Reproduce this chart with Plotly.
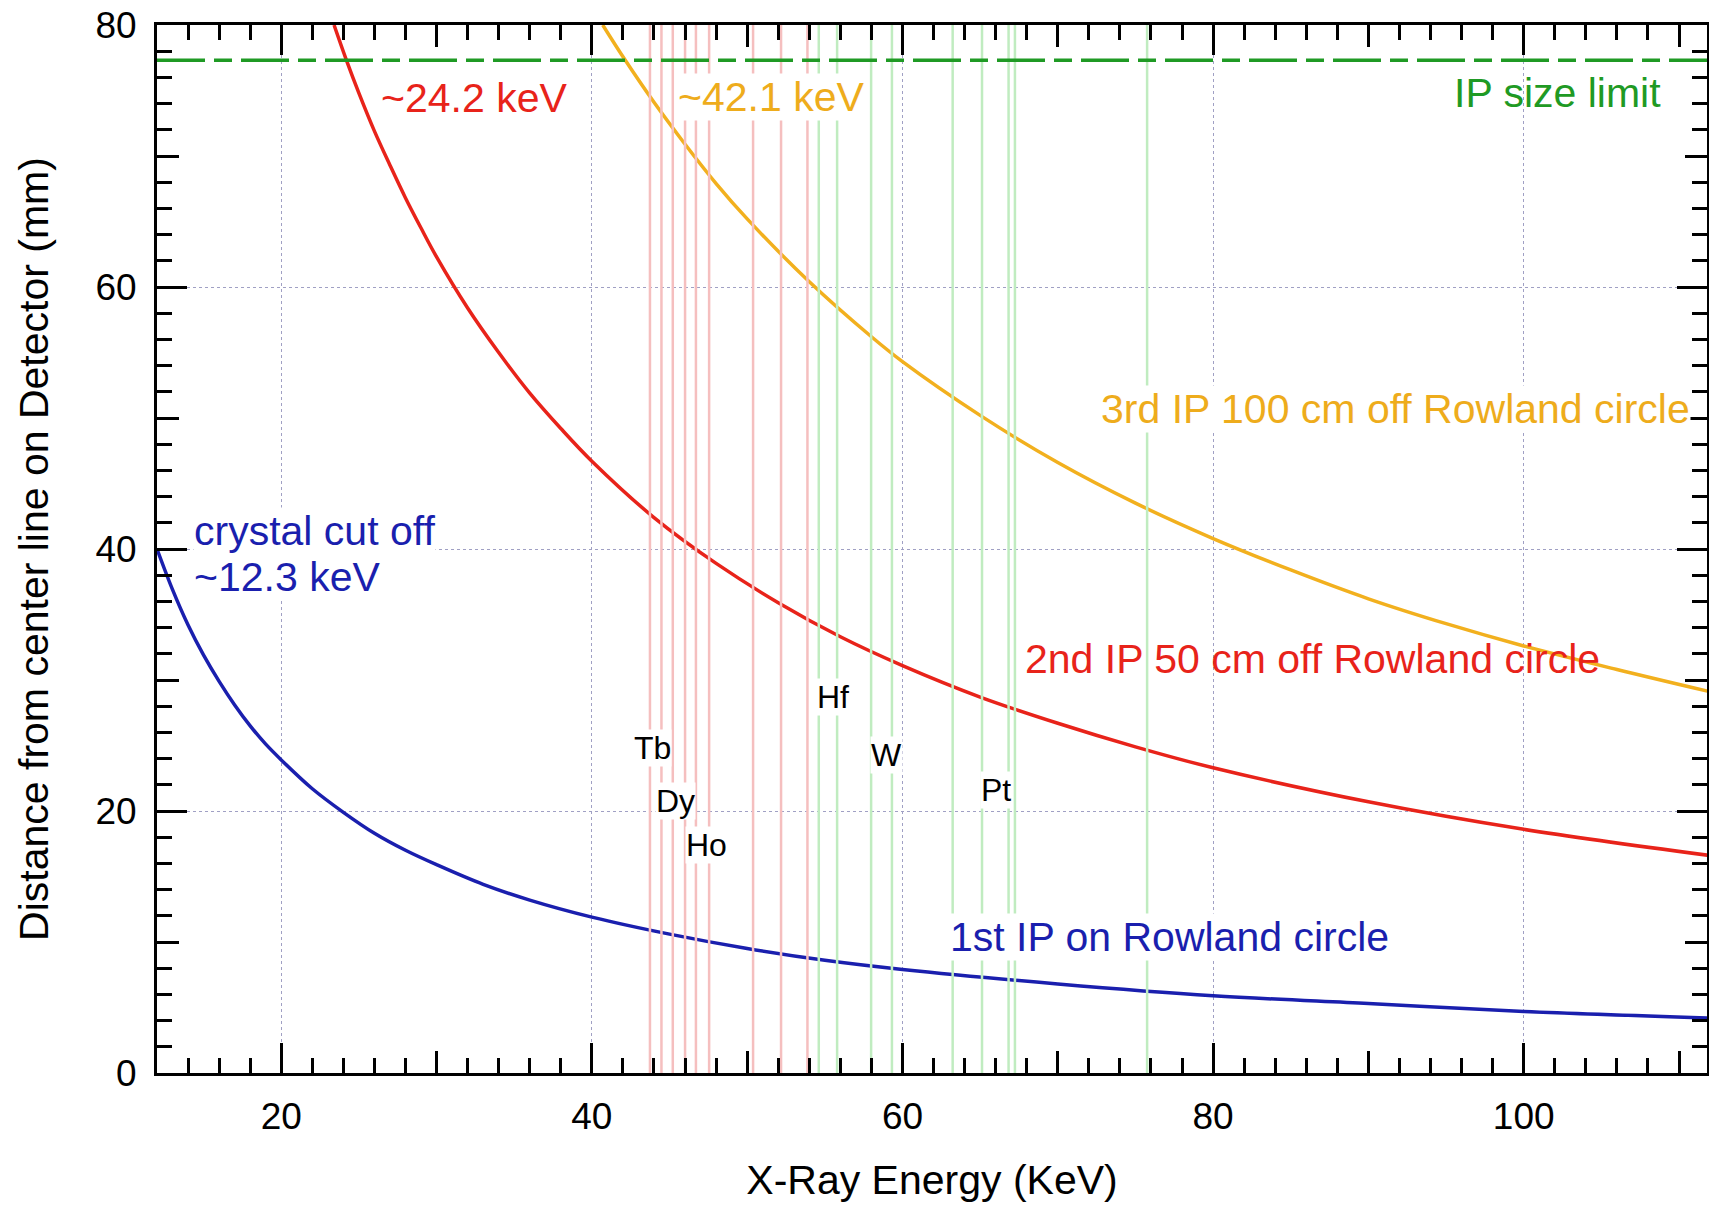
import plotly.graph_objects as go

# ---- data ----
# 1st IP on Rowland circle (blue)
blue_x = [12, 13, 14, 15, 16, 17, 18, 19, 20, 22, 24, 26, 28, 30, 33, 36, 40, 45, 50, 55, 60, 70, 80, 90,
          100, 112]
blue_y = [40.0, 36.9, 34.2, 31.9, 29.9, 28.1, 26.5, 25.1, 23.9, 21.7, 19.9, 18.3, 17.0, 15.9, 14.4, 13.2,
          11.9, 10.6, 9.5, 8.6, 7.9, 6.8, 5.9, 5.3, 4.7, 4.2]
# 2nd IP 50 cm off Rowland circle (red)
red_x = [23.4, 24.2, 25, 26, 27, 28, 29, 30, 32, 34, 36, 38, 40, 44, 48, 52, 56, 60, 65, 70, 75, 80, 90,
         100, 112]
red_y = [80.0, 77.3, 74.8, 71.9, 69.3, 66.8, 64.5, 62.3, 58.4, 55.0, 51.9, 49.2, 46.7, 42.4, 38.9, 35.9,
         33.3, 31.1, 28.7, 26.7, 24.9, 23.3, 20.7, 18.6, 16.6]
# 3rd IP 100 cm off Rowland circle (orange)
orange_x = [40.7, 42.1, 44, 46, 48, 50, 54, 58, 60, 65, 70, 75, 80, 85, 90, 95, 100, 106, 112]
orange_y = [80.0, 77.4, 74.1, 70.9, 67.9, 65.2, 60.4, 56.2, 54.3, 50.2, 46.6, 43.5, 40.8, 38.4, 36.2,
            34.3, 32.6, 30.8, 29.1]
# IP size limit
ip_limit_x = [12, 112]
ip_limit_y = [77.3, 77.3]
# emission lines (keV)
pink_lines = [43.74, 44.48, 45.21, 46.00, 46.70, 47.55, 50.38, 52.18, 53.88]
green_lines = [54.61, 55.79, 57.98, 59.32, 63.23, 65.12, 66.83, 67.24, 75.75]
line_y_span = [0, 80]
# element labels
elem_names = ["Tb", "Dy", "Ho", "Hf", "W", "Pt"]
elem_x = [43.9, 45.4, 47.4, 55.5, 59.0, 66.0]
elem_y = [24.8, 20.8, 17.4, 28.7, 24.3, 21.6]

x_range = [12, 111.8]
y_range = [0, 80]

FONT = "Liberation Sans, Arial, sans-serif"
BLUE = "#1a1fae"
RED = "#e8231a"
ORANGE = "#f2b01e"
GREEN = "#1f9a24"
PINK_L = "#f5bfbf"
GREEN_L = "#c0ecc0"
GRID = "#a0a0c4"


def vlines(xs):
    vx, vy = [], []
    for e in xs:
        vx += [e, e, None]
        vy += [line_y_span[0], line_y_span[1], None]
    return vx, vy


fig = go.Figure()

fig.add_trace(go.Scatter(x=blue_x, y=blue_y, mode="lines", line=dict(color=BLUE, width=3.5, shape="spline"),
                         name="1st IP on Rowland circle", showlegend=False))
fig.add_trace(go.Scatter(x=red_x, y=red_y, mode="lines", line=dict(color=RED, width=3.5, shape="spline"),
                         name="2nd IP 50 cm off Rowland circle", showlegend=False))
fig.add_trace(go.Scatter(x=orange_x, y=orange_y, mode="lines", line=dict(color=ORANGE, width=3.5, shape="spline"),
                         name="3rd IP 100 cm off Rowland circle", showlegend=False))

px_, py_ = vlines(pink_lines)
fig.add_trace(go.Scatter(x=px_, y=py_, mode="lines", line=dict(color=PINK_L, width=2.5),
                         showlegend=False, hoverinfo="skip"))
gx_, gy_ = vlines(green_lines)
fig.add_trace(go.Scatter(x=gx_, y=gy_, mode="lines", line=dict(color=GREEN_L, width=2.5),
                         showlegend=False, hoverinfo="skip"))

fig.add_trace(go.Scatter(x=ip_limit_x, y=ip_limit_y, mode="lines",
                         line=dict(color=GREEN, width=3.5, dash="48px,9px,18px,9px"),
                         name="IP size limit", showlegend=False))

# helper empty trace for the medium (every 10) ticks
fig.add_trace(go.Scatter(x=[], y=[], xaxis="x2", yaxis="y2", showlegend=False, hoverinfo="skip"))

annots = []


def add_label(text, x, y, color, size, xanchor="left", bg=None):
    d = dict(x=x, y=y, xref="x", yref="y", text=text, showarrow=False, xanchor=xanchor, yanchor="middle",
             font=dict(family=FONT, size=size, color=color), borderpad=0)
    if bg:
        d["bgcolor"] = bg
    annots.append(d)


add_label("~24.2 keV", 26.35, 74.4, RED, 41)
add_label("~42.1 keV", 45.5, 74.5, "#eeac1c", 41, bg="white")
add_label("IP size limit", 108.9, 74.8, GREEN, 41, xanchor="right")
add_label("crystal cut off", 14.3, 41.4, BLUE, 41, bg="white")
add_label("~12.3 keV", 14.3, 37.9, BLUE, 41, bg="white")
add_label("3rd IP 100 cm off Rowland circle", 72.7, 50.7, "#eeac1c", 41, bg="white")
add_label("2nd IP 50 cm off Rowland circle", 105.0, 31.6, RED, 41, xanchor="right")
add_label("1st IP on Rowland circle", 91.4, 10.4, BLUE, 41, xanchor="right", bg="white")
for n, ex, ey in zip(elem_names, elem_x, elem_y):
    add_label(n, ex, ey, "black", 32, xanchor="center", bg="white")

axis_common = dict(ticks="inside", tickwidth=3, tickcolor="black", showline=True, linewidth=3,
                   linecolor="black", mirror="ticks", zeroline=False, showgrid=True, gridcolor=GRID,
                   griddash="dot", gridwidth=1, automargin=False, ticklabeloverflow="allow",
                   tickfont=dict(family=FONT, size=37, color="black"))

fig.update_layout(
    width=1709, height=1212,
    margin=dict(l=157, r=2, t=25, b=139),
    paper_bgcolor="white", plot_bgcolor="white",
    font=dict(family=FONT, color="black"),
    showlegend=False,
    annotations=annots,
    xaxis=dict(range=x_range, dtick=20, tick0=0, ticklen=30, ticklabelstandoff=9,
               minor=dict(dtick=2, tick0=0, ticks="inside", ticklen=15, tickwidth=3, tickcolor="black",
                          showgrid=False),
               title=dict(text="X-Ray Energy (KeV)", font=dict(family=FONT, size=41, color="black"),
                          standoff=29),
               **axis_common),
    yaxis=dict(range=y_range, dtick=20, tick0=0, ticklen=30, ticklabelstandoff=10,
               minor=dict(dtick=2, tick0=0, ticks="inside", ticklen=15, tickwidth=3, tickcolor="black",
                          showgrid=False),
               title=dict(text="Distance from center line on Detector (mm)",
                          font=dict(family=FONT, size=41, color="black"), standoff=35),
               **axis_common),
    xaxis2=dict(range=x_range, overlaying="x", anchor="y2", side="bottom", dtick=10, tick0=0,
                ticks="inside", ticklen=22, tickwidth=3, tickcolor="black", showticklabels=False,
                showgrid=False, showline=False, zeroline=False, mirror="ticks", automargin=False),
    yaxis2=dict(range=y_range, overlaying="y", anchor="x2", side="left", dtick=10, tick0=0,
                ticks="inside", ticklen=22, tickwidth=3, tickcolor="black", showticklabels=False,
                showgrid=False, showline=False, zeroline=False, mirror="ticks", automargin=False),
)

# remove the browser's default 8 px page margin so the figure fills the window exactly
fig.write_html("out.html", config={"displayModeBar": False},
               post_script="document.body.style.margin='0px';")
